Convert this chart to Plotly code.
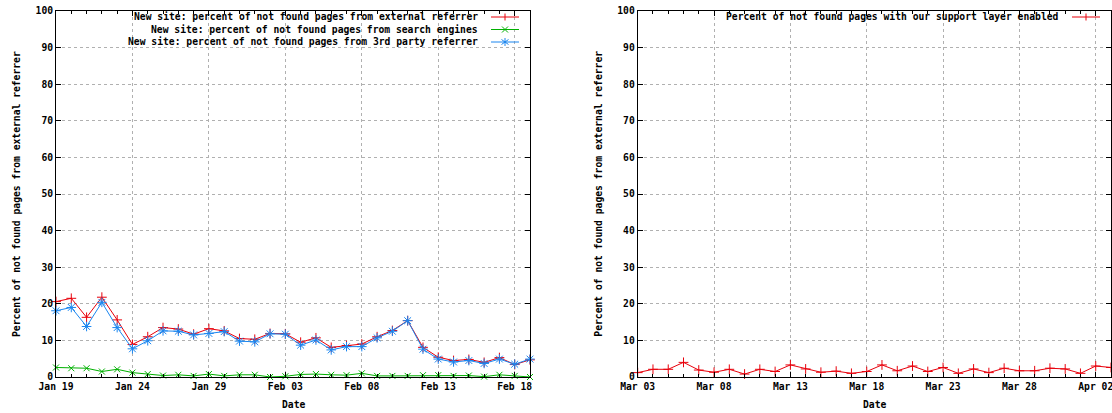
import pandas as pd
import plotly.graph_objects as go

W, H = 1112, 413

# ---------------- data ----------------
left_dates = pd.date_range("2008-01-19", "2008-02-19", freq="D")
ext_referrer = [20.6, 21.5, 16.3, 21.8, 15.6, 8.9, 11.0, 13.5, 13.1, 11.7, 13.2, 12.6, 10.5, 10.3, 11.9,
                11.8, 9.5, 10.7, 8.1, 8.6, 9.0, 11.0, 12.7, 15.4, 8.1, 5.4, 4.5, 4.8, 4.0, 5.3, 3.4, 4.7]
search_engines = [2.6, 2.4, 2.4, 1.5, 2.1, 1.2, 0.8, 0.4, 0.6, 0.3, 0.8, 0.3, 0.6, 0.6, 0.0,
                  0.2, 0.7, 0.8, 0.6, 0.5, 1.0, 0.3, 0.3, 0.3, 0.5, 0.5, 0.3, 0.4, 0.1, 0.6, 0.3, 0.0]
third_party = [18.1, 19.0, 13.8, 20.4, 13.5, 7.7, 9.9, 12.6, 12.5, 11.5, 11.9, 12.4, 9.8, 9.6, 11.8,
               11.7, 8.7, 10.1, 7.4, 8.3, 8.3, 10.7, 12.5, 15.4, 7.6, 4.9, 4.1, 4.5, 3.7, 4.9, 3.5, 4.9]

right_dates = pd.date_range("2008-03-03", "2008-04-03", freq="D")
support_layer = [1.2, 2.1, 2.1, 4.0, 1.9, 1.3, 2.1, 0.8, 2.1, 1.5, 3.3, 2.2, 1.3, 1.6, 1.0, 1.5,
                 3.3, 1.7, 3.0, 1.5, 2.6, 1.0, 2.2, 1.2, 2.4, 1.7, 1.7, 2.4, 2.2, 1.0, 3.0, 2.6]

legend_left = ["New site: percent of not found pages from external referrer",
               "New site: percent of not found pages from search engines",
               "New site: percent of not found pages from 3rd party referrer"]
legend_right = ["Percent of not found pages with our support layer enabled"]
y_title = "Percent of not found pages from external referrer"
x_title = "Date"

RED, GREEN, BLUE = "#e8000b", "#00b000", "#1a86f0"
FONT = "DejaVu Sans Mono"
FS = 9.7

def px(x):
    return x / W

def py(y):
    return 1 - y / H

L0, L1 = 56, 530
R0, R1 = 637.7, 1111
T, B = 11, 377

fig = go.Figure()

def add_series(x, y, name, color, symbol, size, xa, ya):
    fig.add_trace(go.Scatter(
        x=x, y=y, name=name, mode="lines+markers", xaxis=xa, yaxis=ya,
        line=dict(color=color, width=1),
        marker=dict(symbol=symbol, size=size, color=color, line=dict(color=color, width=1)),
        showlegend=False, cliponaxis=False))

add_series(left_dates, ext_referrer, legend_left[0], RED, "cross-thin", 7, "x", "y")
add_series(left_dates, search_engines, legend_left[1], GREEN, "x-thin", 6, "x", "y")
add_series(left_dates, third_party, legend_left[2], BLUE, "asterisk", 8, "x", "y")
add_series(right_dates, support_layer, legend_right[0], RED, "cross-thin", 7, "x2", "y2")

DAY = 86400000
common_x = dict(
    showline=True, linecolor="black", linewidth=1, mirror="ticks",
    ticks="inside", ticklen=5, tickcolor="black", tickwidth=1,
    showgrid=True, gridcolor="#b0b0b0", griddash="dot", gridwidth=1,
    dtick=5 * DAY, tickformat="%b %d", automargin=False, ticklabeloverflow="allow",
    minor=dict(ticks="inside", ticklen=3, dtick=DAY, tickcolor="black", showgrid=False),
    tickfont=dict(family=FONT, size=FS, color="black", weight="bold"),
    zeroline=False, fixedrange=True,
)
common_y = dict(
    showline=True, linecolor="black", linewidth=1, mirror="ticks",
    ticks="inside", ticklen=5, tickcolor="black", tickwidth=1,
    showgrid=True, gridcolor="#b0b0b0", griddash="dot", gridwidth=1,
    range=[0, 100], dtick=10, tick0=0, automargin=False,
    tickfont=dict(family=FONT, size=FS, color="black", weight="bold"),
    zeroline=False, fixedrange=True,
    domain=[py(B), py(T)],
)

fig.update_layout(
    template="none",
    width=W, height=H, margin=dict(l=0, r=0, t=0, b=0, pad=0, autoexpand=False),
    paper_bgcolor="white", plot_bgcolor="white",
    font=dict(family=FONT, size=FS, color="black"),
    showlegend=False,
    xaxis=dict(common_x, domain=[px(L0), px(L1)], anchor="y",
               range=[left_dates[0], left_dates[-1]], tick0=left_dates[0]),
    yaxis=dict(common_y, anchor="x"),
    xaxis2=dict(common_x, domain=[px(R0), px(R1)], anchor="y2",
                range=[right_dates[0], right_dates[-1]], tick0=right_dates[0]),
    yaxis2=dict(common_y, anchor="x2"),
)

ann = []
shapes = []
for (x0, x1) in [(L0, L1), (R0, R1)]:
    ann.append(dict(text=f"<b>{x_title}</b>", x=px((x0 + x1) / 2), y=py(404), xref="paper", yref="paper",
                    showarrow=False, font=dict(family=FONT, size=FS, color="black"),
                    xanchor="center", yanchor="middle"))
    ann.append(dict(text=f"<b>{y_title}</b>", x=px(x0 - 40), y=py((T + B) / 2), xref="paper", yref="paper",
                    showarrow=False, textangle=-90, font=dict(family=FONT, size=FS, color="black"),
                    xanchor="center", yanchor="middle"))

def legend_entry(right, row_y, text, color, glyph):
    ann.append(dict(text=f"<b>{text}</b>", x=px(right - 51), y=py(row_y), xref="paper", yref="paper",
                    showarrow=False, font=dict(family=FONT, size=FS, color="black"),
                    xanchor="right", yanchor="middle", borderpad=0))
    xs, xe = right - 39, right - 11
    shapes.append(dict(type="line", xref="paper", yref="paper", x0=px(xs), x1=px(xe),
                       y0=py(row_y), y1=py(row_y), line=dict(color=color, width=1)))
    cx = (xs + xe) / 2
    if glyph == "+":
        path = f"M{px(cx)},{py(row_y-3.5)} L{px(cx)},{py(row_y+3.5)}"
    elif glyph == "x":
        path = (f"M{px(cx-3)},{py(row_y-3)} L{px(cx+3)},{py(row_y+3)} "
                f"M{px(cx-3)},{py(row_y+3)} L{px(cx+3)},{py(row_y-3)}")
    else:
        path = (f"M{px(cx)},{py(row_y-4)} L{px(cx)},{py(row_y+4)} "
                f"M{px(cx-3.5)},{py(row_y-2.5)} L{px(cx+3.5)},{py(row_y+2.5)} "
                f"M{px(cx-3.5)},{py(row_y+2.5)} L{px(cx+3.5)},{py(row_y-2.5)}")
    shapes.append(dict(type="path", xref="paper", yref="paper", path=path,
                       line=dict(color=color, width=1)))

legend_entry(L1, 17, legend_left[0], RED, "+")
legend_entry(L1, 29.5, legend_left[1], GREEN, "x")
legend_entry(L1, 42, legend_left[2], BLUE, "*")
legend_entry(R1, 17, legend_right[0], RED, "+")

fig.update_layout(annotations=ann, shapes=shapes)
fig.write_html("out.html")
